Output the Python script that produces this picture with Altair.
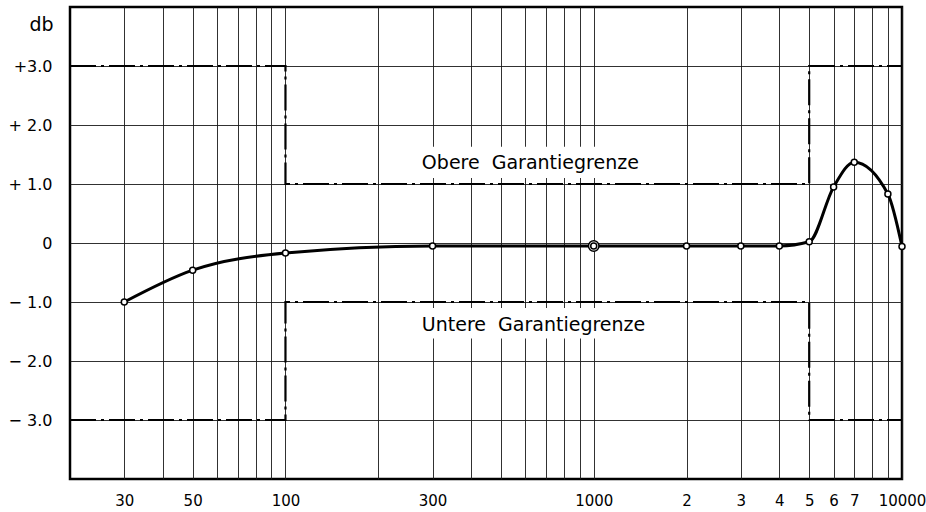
import altair as alt
import pandas as pd

# ---- data ----
freq = [30, 50, 100, 300, 1000, 2000, 3000, 4000, 5000, 6000, 7000, 9000, 10000]
db = [-1.0, -0.46, -0.17, -0.05, -0.05, -0.05, -0.05, -0.05, 0.02, 0.95, 1.37, 0.83, -0.06]

ref_freq = [1000]
ref_db = [-0.05]

upper_x = [20, 100, 100, 5000, 5000, 10000]
upper_y = [3.0, 3.0, 1.0, 1.0, 3.0, 3.0]
lower_x = [20, 100, 100, 5000, 5000, 10000]
lower_y = [-3.0, -3.0, -1.0, -1.0, -3.0, -3.0]

label_text = ["Obere\u00a0\u00a0Garantiegrenze", "Untere\u00a0\u00a0Garantiegrenze"]
label_x = [277, 277]
label_y = [1.36, -1.39]
box_x = [265, 265]
box_x2 = [1530, 1530]
box_y = [1.10, -1.10]
box_y2 = [1.63, -1.62]

x_ticks = [30, 40, 50, 60, 70, 80, 90, 100, 200, 300, 400, 500, 600, 700, 800, 900,
           1000, 2000, 3000, 4000, 5000, 6000, 7000, 8000, 9000, 10000]
x_labels = {30: "30", 50: "50", 100: "100", 300: "300", 1000: "1000", 2000: "2",
            3000: "3", 4000: "4", 5000: "5", 6000: "6", 7000: "7", 10000: "10000"}
y_ticks = [-3, -2, -1, 0, 1, 2, 3]
y_labels = {3: "+3.0", 2: "+ 2.0", 1: "+ 1.0", 0: "0\u2007", -1: "\u2212 1.0",
            -2: "\u2212 2.0", -3: "\u2212 3.0"}


def label_expr(mapping):
    expr = "''"
    for k, v in reversed(list(mapping.items())):
        expr = f"datum.value == {k} ? '{v}' : ({expr})"
    return expr


FONT = "DejaVu Sans"

curve_df = pd.DataFrame({"f": freq, "db": db})
ref_df = pd.DataFrame({"f": ref_freq, "db": ref_db})
limits_df = pd.DataFrame({
    "f": upper_x + lower_x,
    "db": upper_y + lower_y,
    "limit": ["upper"] * len(upper_x) + ["lower"] * len(lower_x),
    "i": list(range(len(upper_x))) + list(range(len(lower_x))),
})
labels_df = pd.DataFrame({"t": label_text, "f": label_x, "db": label_y,
                          "bx": box_x, "bx2": box_x2, "by": box_y, "by2": box_y2})

xscale = alt.Scale(type="log", domain=[20, 10000], nice=False)
yscale = alt.Scale(domain=[-4, 4], nice=False)

xaxis = alt.Axis(values=x_ticks, labelExpr=label_expr(x_labels), grid=True,
                 labelOverlap=False, labelFlush=False, title=None,
                 labelPadding=14, labelFontSize=15)
yaxis = alt.Axis(values=y_ticks, labelExpr=label_expr(y_labels), grid=True,
                 labelOverlap=False, labelFlush=False, title="db",
                 titleAngle=0, titleAlign="right", titleBaseline="middle",
                 titleX=-17, titleY=17, titleFont=FONT, titleFontSize=19,
                 titleFontWeight="normal", labelPadding=18, labelFontSize=16)

base = alt.Chart(curve_df)

boxes = alt.Chart(labels_df).mark_rect(fill="white").encode(
    x=alt.X("bx:Q", scale=xscale, axis=xaxis),
    x2="bx2:Q",
    y=alt.Y("by:Q", scale=yscale, axis=yaxis),
    y2="by2:Q",
)

limits = alt.Chart(limits_df).mark_line(
    color="black", strokeWidth=2.2, strokeDash=[26, 5, 3, 5]
).encode(
    x=alt.X("f:Q", scale=xscale),
    y=alt.Y("db:Q", scale=yscale),
    detail="limit:N",
    order="i:Q",
)

texts = alt.Chart(labels_df).mark_text(
    font=FONT, fontSize=19, align="left", baseline="middle", color="black"
).encode(
    x=alt.X("f:Q", scale=xscale),
    y=alt.Y("db:Q", scale=yscale),
    text="t:N",
)

curve = base.mark_line(color="black", strokeWidth=3, interpolate="monotone").encode(
    x=alt.X("f:Q", scale=xscale),
    y=alt.Y("db:Q", scale=yscale),
)

ref_ring = alt.Chart(ref_df).mark_point(
    shape="circle", size=110, filled=True, fill="white", stroke="black",
    strokeWidth=1.5, opacity=1
).encode(
    x=alt.X("f:Q", scale=xscale),
    y=alt.Y("db:Q", scale=yscale),
)

points = base.mark_point(
    shape="circle", size=36, filled=True, fill="white", stroke="black",
    strokeWidth=1.5, opacity=1
).encode(
    x=alt.X("f:Q", scale=xscale),
    y=alt.Y("db:Q", scale=yscale),
)

chart = alt.layer(boxes, limits, texts, curve, ref_ring, points).properties(
    width=832, height=472,
    autosize=alt.AutoSizeParams(type="none"),
    padding={"left": 70, "top": 7, "right": 24, "bottom": 33},
    background="white",
).configure_view(
    stroke="black", strokeWidth=2.5
).configure_axis(
    domain=False, ticks=False, gridColor="#1a1a1a", gridWidth=0.9, gridOpacity=1,
    labelFont=FONT, labelColor="black",
)

chart.save("out.html", embed_options={"renderer": "svg", "actions": False})
